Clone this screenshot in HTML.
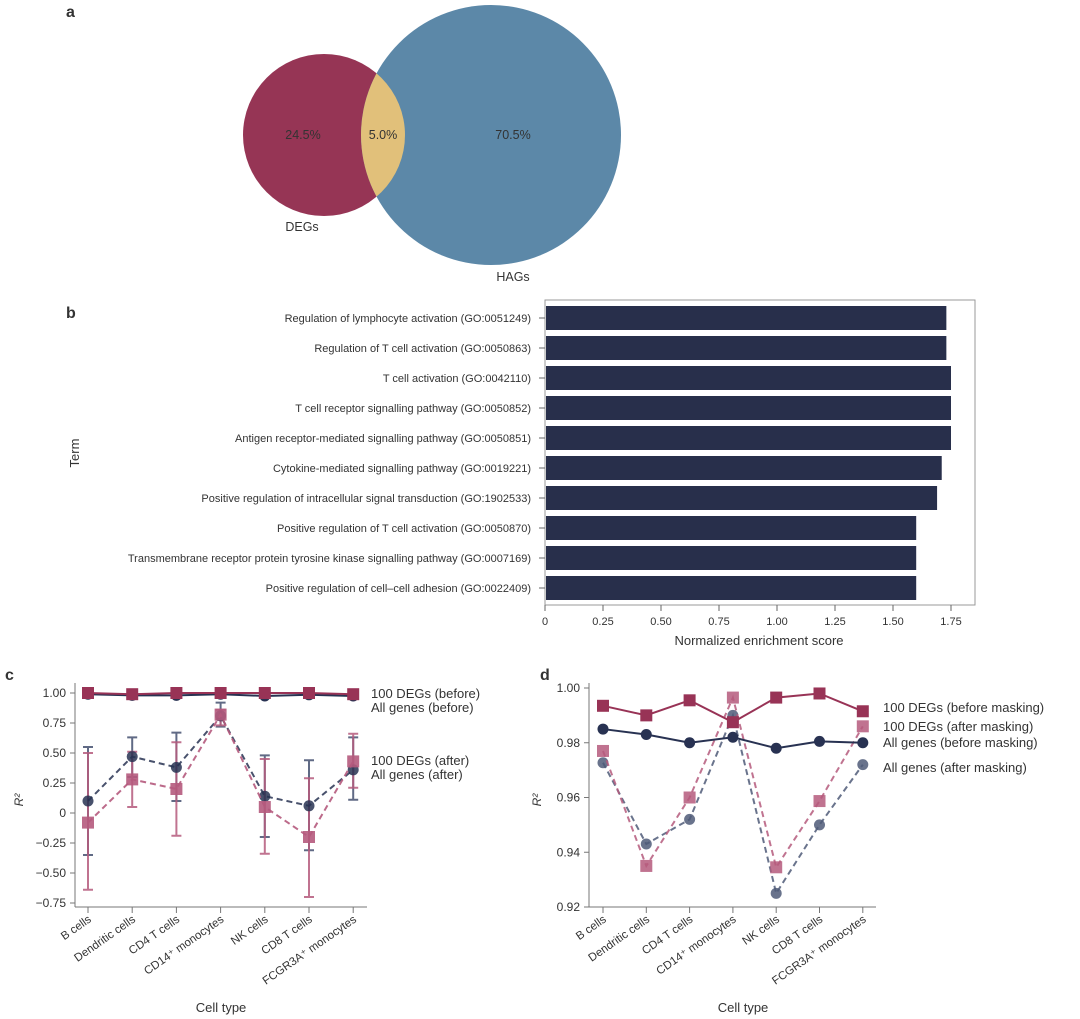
<!DOCTYPE html>
<html><head><meta charset="utf-8"><style>
body{margin:0;background:#fff;width:1080px;height:1019px;overflow:hidden;font-family:"Liberation Sans",sans-serif}
svg{display:block}
text{font-family:"Liberation Sans",sans-serif;fill:#333}
</style></head><body>
<svg id="s" width="1080" height="1019" viewBox="0 0 1080 1019">
<text x="66" y="17" font-size="16" font-weight="bold" fill="#000">a</text>
<g>
<defs><clipPath id="cl"><circle cx="324" cy="135" r="81"/></clipPath></defs>
<circle cx="324" cy="135" r="81" fill="#963555"/>
<circle cx="491" cy="135" r="130" fill="#5c88a8"/>
<circle cx="491" cy="135" r="130" fill="#e1c07a" clip-path="url(#cl)"/>
<text x="303" y="139" font-size="12.5" text-anchor="middle" fill="#222">24.5%</text>
<text x="383" y="139" font-size="12.5" text-anchor="middle" fill="#222">5.0%</text>
<text x="513" y="139" font-size="12.5" text-anchor="middle" fill="#222">70.5%</text>
<text x="302" y="231" font-size="12.5" text-anchor="middle" fill="#222">DEGs</text>
<text x="513" y="281" font-size="12.5" text-anchor="middle" fill="#222">HAGs</text>
</g>
<text x="66" y="318" font-size="16" font-weight="bold" fill="#000">b</text>
<g id="pb"></g>
<text x="5" y="680" font-size="16" font-weight="bold" fill="#000">c</text>
<g id="pc"></g>
<text x="540" y="680" font-size="16" font-weight="bold" fill="#000">d</text>
<g id="pd"></g>
</svg>
<script>
const terms=["Regulation of lymphocyte activation (GO:0051249)","Regulation of T cell activation (GO:0050863)","T cell activation (GO:0042110)","T cell receptor signalling pathway (GO:0050852)","Antigen receptor-mediated signalling pathway (GO:0050851)","Cytokine-mediated signalling pathway (GO:0019221)","Positive regulation of intracellular signal transduction (GO:1902533)","Positive regulation of T cell activation (GO:0050870)","Transmembrane receptor protein tyrosine kinase signalling pathway (GO:0007169)","Positive regulation of cell\u2013cell adhesion (GO:0022409)"];
const nes=[1.73,1.73,1.75,1.75,1.75,1.71,1.69,1.60,1.60,1.60];
const nesTicks=[0,0.25,0.5,0.75,1.0,1.25,1.5,1.75];
const cells=["B cells","Dendritic cells","CD4 T cells","CD14\u207A monocytes","NK cells","CD8 T cells","FCGR3A\u207A monocytes"];
const cDegBefore=[1.0,0.99,1.0,1.0,1.0,1.0,0.99];
const cAllBefore=[0.99,0.98,0.98,0.99,0.975,0.985,0.975];
const cDegAfter=[-0.08,0.28,0.20,0.82,0.05,-0.20,0.43];
const cDegLo=[-0.64,0.05,-0.19,0.73,-0.34,-0.70,0.21];
const cDegHi=[0.50,0.51,0.59,0.86,0.45,0.29,0.66];
const cAllAfter=[0.10,0.47,0.38,0.81,0.14,0.06,0.36];
const cAllLo=[-0.35,0.30,0.10,0.72,-0.20,-0.31,0.11];
const cAllHi=[0.55,0.63,0.67,0.92,0.48,0.44,0.63];
const cTicks=[1.0,0.75,0.5,0.25,0,-0.25,-0.5,-0.75];
const cTickLabels=["1.00","0.75","0.50","0.25","0","\u22120.25","\u22120.50","\u22120.75"];
const dDegBefore=[0.9935,0.990,0.9955,0.9875,0.9965,0.998,0.9915];
const dDegAfter=[0.977,0.935,0.960,0.9965,0.9345,0.9587,0.986];
const dAllBefore=[0.985,0.983,0.980,0.982,0.978,0.9805,0.980];
const dAllAfter=[0.9727,0.943,0.952,0.990,0.925,0.950,0.972];
const dTicks=[1.0,0.98,0.96,0.94,0.92];
const dTickLabels=["1.00","0.98","0.96","0.94","0.92"];
const NS="http://www.w3.org/2000/svg";
function mk(p,t,a,txt){const e=document.createElementNS(NS,t);for(const k in a)e.setAttribute(k,a[k]);if(txt!=null)e.textContent=txt;p.appendChild(e);return e;}
const RED="#983356",NAVY="#283252",PINK="#b55a7d",SLATE="#4f5a78";
(function(){const g=document.getElementById('pb');
const x=v=>545+v/0.25*58, y=i=>318+i*30;
const fr=mk(g,'rect',{x:545,y:300,width:430,height:305,fill:'none',stroke:'#999','stroke-width':1});

terms.forEach((t,i)=>{
 const b=mk(g,'rect',{x:x(0)+1,y:y(i)-12,width:x(nes[i])-x(0)-1,height:24,fill:'#282f4b'});
 
 mk(g,'line',{x1:539,x2:545,y1:y(i),y2:y(i),stroke:'#666'});
 const l=mk(g,'text',{x:531,y:y(i)+4,'font-size':11,'text-anchor':'end',fill:'#333'},t);
 });
nesTicks.forEach(v=>{mk(g,'line',{x1:x(v),x2:x(v),y1:605,y2:611,stroke:'#666'});
 const l=mk(g,'text',{x:x(v),y:625,'font-size':11,'text-anchor':'middle'},v===0?'0':v.toFixed(2));
 });
const xt=mk(g,'text',{x:759,y:645,'font-size':13,'text-anchor':'middle'},'Normalized enrichment score');

const yt=mk(g,'text',{x:79,y:453,'font-size':13,'text-anchor':'middle',transform:'rotate(-90 79 453)'},'Term');

})();
function axes(g,xs,y,x0,x1,yTop,yBot,ticks,labels){
 mk(g,'line',{x1:x0,x2:x0,y1:yTop,y2:yBot,stroke:'#777'});
 mk(g,'line',{x1:x0,x2:x1,y1:yBot,y2:yBot,stroke:'#777'});
 ticks.forEach((v,i)=>{mk(g,'line',{x1:x0-5,x2:x0,y1:y(v),y2:y(v),stroke:'#777'});
  const l=mk(g,'text',{x:x0-9,y:y(v)+4,'font-size':12,'text-anchor':'end'},labels[i]);
  });
 cells.forEach((c,i)=>{mk(g,'line',{x1:xs(i),x2:xs(i),y1:yBot,y2:yBot+6,stroke:'#777'});
  const l=mk(g,'text',{x:xs(i)+4,y:yBot+14,'font-size':11.5,'text-anchor':'end',transform:`rotate(-35 ${xs(i)+4} ${yBot+14})`},c);
  });
}
function series(g,xs,y,vals,col,dash,shape,name,op){
 const pts=vals.map((v,i)=>xs(i)+','+y(v)).join(' ');
 const pl=mk(g,'polyline',{points:pts,fill:'none',stroke:col,'stroke-width':2,'stroke-dasharray':dash?'6,4':'none',opacity:op});
 
 vals.forEach((v,i)=>{let m;
  if(shape==='sq')m=mk(g,'rect',{x:xs(i)-6,y:y(v)-6,width:12,height:12,fill:col,opacity:op});
  else m=mk(g,'circle',{cx:xs(i),cy:y(v),r:5.5,fill:col,opacity:op});
  });
}
function errs(g,xs,y,lo,hi,col,name,op){lo.forEach((l,i)=>{const X=xs(i);
 const e=mk(g,'path',{d:`M${X},${y(l)}V${y(hi[i])}M${X-5},${y(l)}H${X+5}M${X-5},${y(hi[i])}H${X+5}`,stroke:col,'stroke-width':2,fill:'none',opacity:op});
 });}
function lbl(g,x,y,t,col,fs){const l=mk(g,'text',{x:x,y:y,'font-size':fs,fill:col},t);}
(function(){const g=document.getElementById('pc');
const xs=i=>88+i*44.2, y=v=>693+(1-v)/0.25*30;
axes(g,xs,y,75,367,683,907,cTicks,cTickLabels);
errs(g,xs,y,cAllLo,cAllHi,SLATE,'all-genes-after',0.9);
errs(g,xs,y,cDegLo,cDegHi,PINK,'degs-after',0.85);
series(g,xs,y,cAllAfter,NAVY,true,'ci','all-genes-after',0.85);
series(g,xs,y,cDegAfter,PINK,true,'sq','degs-after',0.9);
series(g,xs,y,cAllBefore,NAVY,false,'ci','all-genes-before',1);
series(g,xs,y,cDegBefore,RED,false,'sq','degs-before',1);
lbl(g,371,698,'100 DEGs (before)',PINK,13);lbl(g,371,712,'All genes (before)',NAVY,13);
lbl(g,371,765,'100 DEGs (after)',PINK,13);lbl(g,371,779,'All genes (after)',NAVY,13);
const xt=mk(g,'text',{x:221,y:1012,'font-size':13,'text-anchor':'middle'},'Cell type');
const yt=mk(g,'text',{x:23,y:800,'font-size':12,'text-anchor':'middle','font-style':'italic',transform:'rotate(-90 23 800)'},'R²');
})();
(function(){const g=document.getElementById('pd');
const xs=i=>603+i*43.3, y=v=>688+(1-v)/0.02*54.75;
axes(g,xs,y,589,876,683,907,dTicks,dTickLabels);
series(g,xs,y,dAllAfter,SLATE,true,'ci','all-genes-after',0.85);
series(g,xs,y,dDegAfter,PINK,true,'sq','degs-after',0.85);
series(g,xs,y,dAllBefore,NAVY,false,'ci','all-genes-before',1);
series(g,xs,y,dDegBefore,RED,false,'sq','degs-before',1);
lbl(g,883,712,'100 DEGs (before masking)',PINK,13);lbl(g,883,731,'100 DEGs (after masking)',PINK,13);
lbl(g,883,747,'All genes (before masking)',NAVY,13);lbl(g,883,772,'All genes (after masking)',NAVY,13);
const xt=mk(g,'text',{x:743,y:1012,'font-size':13,'text-anchor':'middle'},'Cell type');
const yt=mk(g,'text',{x:541,y:800,'font-size':12,'text-anchor':'middle','font-style':'italic',transform:'rotate(-90 541 800)'},'R²');
})();
</script>
</body></html>
